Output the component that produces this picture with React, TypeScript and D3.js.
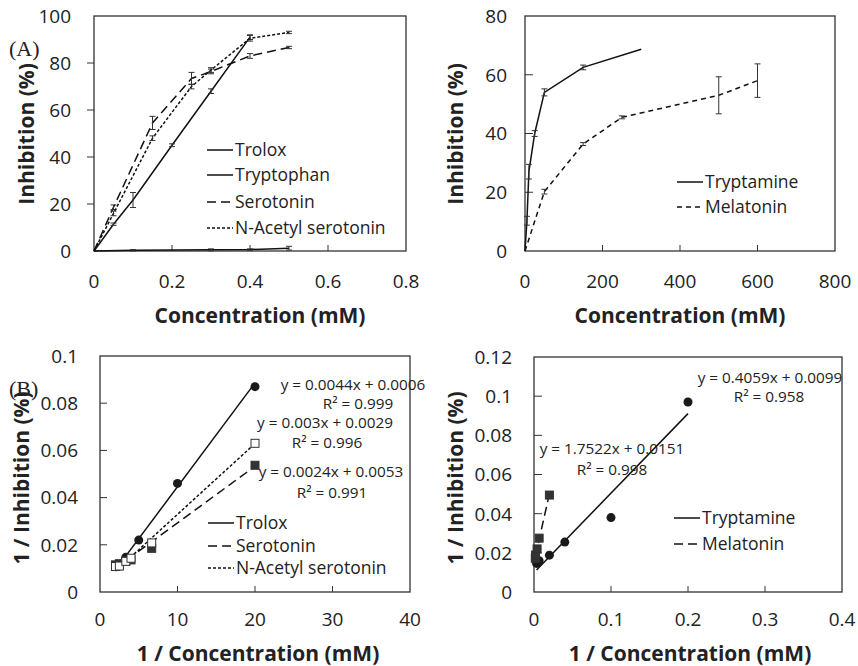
import React, { useRef, useEffect } from "react";
import * as d3 from "d3";

// ---- panel A, left: inhibition vs concentration (mM)
const troloxConc = [0, 0.05, 0.1, 0.2, 0.3, 0.4];
const troloxInh = [0, 11.4, 21.7, 45, 68, 91];
const troloxErr = [0, 0.5, 3.2, 0.6, 1, 1];

const tryptophanConc = [0, 0.1, 0.3, 0.4, 0.5];
const tryptophanInh = [0, 0.3, 0.5, 0.6, 1.2];
const tryptophanErr = [0, 0.3, 0.4, 0.3, 0.8];

const serotoninConc = [0, 0.05, 0.15, 0.25, 0.3, 0.4, 0.5];
const serotoninInh = [0, 18.6, 54.5, 73.4, 76.4, 83, 86.6];
const serotoninErr = [0, 1, 2.8, 2.6, 1, 1, 0.5];

const nacetylConc = [0, 0.05, 0.15, 0.25, 0.3, 0.4, 0.5];
const nacetylInh = [0, 16, 48, 70, 77, 90.5, 93];
const nacetylErr = [0, 1, 1, 1, 1, 1.2, 0.5];

// ---- panel A, right
const tryptamineConc = [0, 5, 10, 25, 50, 150, 300];
const tryptamineInh = [0, 10.3, 27, 40, 54, 62.5, 68.7];
const tryptamineErr = [0, 1.5, 2.5, 1, 1.2, 0.8, 0];

const melatoninConc = [0, 50, 150, 250, 500, 600];
const melatoninInh = [0, 20.2, 36.4, 45.5, 53, 58];
const melatoninErr = [0, 0.8, 0.5, 0.5, 6.3, 5.7];

// ---- panel B, left: double reciprocal
const troloxInvC = [2.5, 3.33, 5, 10, 20];
const troloxInvI = [0.011, 0.0147, 0.022, 0.046, 0.087];
const serotoninInvC = [2, 2.5, 3.33, 4, 6.67, 20];
const serotoninInvI = [0.0115, 0.012, 0.0131, 0.0136, 0.0185, 0.0537];
const nacetylInvC = [2, 2.5, 3.33, 4, 6.67, 20];
const nacetylInvI = [0.0108, 0.011, 0.013, 0.0143, 0.0208, 0.063];

// ---- panel B, right
const tryptamineInvC = [0.00333, 0.00667, 0.02, 0.04, 0.1, 0.2];
const tryptamineInvI = [0.0146, 0.016, 0.0188, 0.0255, 0.038, 0.097];
const melatoninInvC = [0.00167, 0.002, 0.004, 0.00667, 0.02];
const melatoninInvI = [0.0172, 0.0189, 0.022, 0.0275, 0.0495];

// trend lines [slope, intercept]
const troloxFit = [0.0044, 0.0006];
const serotoninFit = [0.0024, 0.0053];
const nacetylFit = [0.003, 0.0029];
const tryptamineFit = [0.4059, 0.0099];
const melatoninFit = [1.7522, 0.0151];

const FONT = "'Open Sans', sans-serif";
const SOLID = null;
const LONG = "9,5";
const SHORT = "3,2";

const drawFrame = (svg, p) => {
  const { x, y } = p;
  const [x0, x1] = x.range();
  const [y0, y1] = y.range();

  svg
    .append("rect")
    .attr("x", x0)
    .attr("y", y1)
    .attr("width", x1 - x0)
    .attr("height", y0 - y1)
    .attr("fill", "none")
    .attr("stroke", "#333")
    .attr("stroke-width", 1.3);

  // x ticks point inward
  svg
    .selectAll(null)
    .data(p.xTicks.slice(1, -1))
    .enter()
    .append("line")
    .attr("x1", (d) => x(d))
    .attr("x2", (d) => x(d))
    .attr("y1", y0)
    .attr("y2", y0 - 6)
    .attr("stroke", "#333")
    .attr("stroke-width", 1);

  svg
    .selectAll(null)
    .data(p.yTicks.slice(1, -1))
    .enter()
    .append("line")
    .attr("x1", x0)
    .attr("x2", x0 + p.yTickLen)
    .attr("y1", (d) => y(d))
    .attr("y2", (d) => y(d))
    .attr("stroke", "#333")
    .attr("stroke-width", 1);

  svg
    .selectAll(null)
    .data(p.xTicks)
    .enter()
    .append("text")
    .attr("x", (d) => x(d))
    .attr("y", y0 + p.xLabelOff)
    .attr("text-anchor", "middle")
    .style("font-family", FONT)
    .style("font-size", "19px")
    .style("fill", "#222")
    .text((d) => String(d));

  svg
    .selectAll(null)
    .data(p.yTicks)
    .enter()
    .append("text")
    .attr("x", x0 - p.yLabelOff)
    .attr("y", (d) => y(d))
    .attr("dy", "0.36em")
    .attr("text-anchor", "end")
    .style("font-family", FONT)
    .style("font-size", "19px")
    .style("fill", "#222")
    .text((d) => String(d));

  svg
    .append("text")
    .attr("x", p.xTitle[0])
    .attr("y", p.xTitle[1])
    .attr("text-anchor", "middle")
    .style("font-family", FONT)
    .style("font-size", "21px")
    .style("font-weight", "bold")
    .style("fill", "#222")
    .text(p.xTitleText);

  svg
    .append("text")
    .attr("transform", `translate(${p.yTitle[0]},${p.yTitle[1]}) rotate(-90)`)
    .attr("text-anchor", "middle")
    .attr("dy", "0.35em")
    .style("font-family", FONT)
    .style("font-size", "21px")
    .style("font-weight", "bold")
    .style("fill", "#222")
    .text(p.yTitleText);
};

const drawSeries = (svg, x, y, xs, ys, errs, dash) => {
  const pts = xs.map((v, i) => [v, ys[i]]);
  svg
    .append("path")
    .attr("d", d3.line().x((d) => x(d[0])).y((d) => y(d[1]))(pts))
    .attr("fill", "none")
    .attr("stroke", "#111")
    .attr("stroke-width", 1.5)
    .attr("stroke-dasharray", dash);

  if (!errs) return;
  const eb = xs
    .map((v, i) => ({ x: v, lo: ys[i] - errs[i], hi: ys[i] + errs[i], e: errs[i] }))
    .filter((d) => d.e > 0);
  const g = svg.append("g").attr("stroke", "#333").attr("stroke-width", 1);
  eb.forEach((d) => {
    g.append("line").attr("x1", x(d.x)).attr("x2", x(d.x)).attr("y1", y(d.lo)).attr("y2", y(d.hi));
    g.append("line").attr("x1", x(d.x) - 3).attr("x2", x(d.x) + 3).attr("y1", y(d.lo)).attr("y2", y(d.lo));
    g.append("line").attr("x1", x(d.x) - 3).attr("x2", x(d.x) + 3).attr("y1", y(d.hi)).attr("y2", y(d.hi));
  });
};

const drawFit = (svg, x, y, xs, fit, dash) => {
  const ext = d3.extent(xs);
  svg
    .append("path")
    .attr("d", d3.line().x((d) => x(d)).y((d) => y(fit[0] * d + fit[1]))(ext))
    .attr("fill", "none")
    .attr("stroke", "#111")
    .attr("stroke-width", 1.5)
    .attr("stroke-dasharray", dash);
};

const drawMarkers = (svg, x, y, xs, ys, kind) => {
  xs.forEach((v, i) => {
    if (kind === "circle") {
      svg.append("circle").attr("cx", x(v)).attr("cy", y(ys[i])).attr("r", 4.5).attr("fill", "#1a1a1a");
    } else {
      svg
        .append("rect")
        .attr("x", x(v) - 4)
        .attr("y", y(ys[i]) - 4)
        .attr("width", 8)
        .attr("height", 8)
        .attr("fill", kind === "open" ? "#fff" : "#333")
        .attr("stroke", "#333")
        .attr("stroke-width", 1);
    }
  });
};

const drawLegend = (svg, x0, items) => {
  items.forEach((it) => {
    svg
      .append("line")
      .attr("x1", x0)
      .attr("x2", x0 + 26)
      .attr("y1", it.y)
      .attr("y2", it.y)
      .attr("stroke", "#111")
      .attr("stroke-width", 1.5)
      .attr("stroke-dasharray", it.dash);
    svg
      .append("text")
      .attr("x", x0 + 28)
      .attr("y", it.y)
      .attr("dy", "0.36em")
      .style("font-family", FONT)
      .style("font-size", "17.5px")
      .style("fill", "#222")
      .text(it.label);
  });
};

const drawNote = (svg, cx, yb, text) => {
  svg
    .append("text")
    .attr("x", cx)
    .attr("y", yb)
    .attr("text-anchor", "middle")
    .style("font-family", FONT)
    .style("font-size", "15.3px")
    .style("fill", "#222")
    .text(text);
};

const App = () => {
  const svgRef = useRef();

  useEffect(() => {
    const svg = d3.select(svgRef.current);
    svg.selectAll("*").remove();

    // ---- A left
    const xA1 = d3.scaleLinear().domain([0, 0.8]).range([94, 406]);
    const yA1 = d3.scaleLinear().domain([0, 100]).range([251, 16]);
    drawFrame(svg, {
      x: xA1,
      y: yA1,
      xTicks: [0, 0.2, 0.4, 0.6, 0.8],
      yTicks: [0, 20, 40, 60, 80, 100],
      yTickLen: -7,
      xLabelOff: 37,
      yLabelOff: 23,
      xTitle: [260, 323],
      xTitleText: "Concentration (mM)",
      yTitle: [27, 134],
      yTitleText: "Inhibition (%)",
    });
    drawSeries(svg, xA1, yA1, troloxConc, troloxInh, troloxErr, SOLID);
    drawSeries(svg, xA1, yA1, tryptophanConc, tryptophanInh, tryptophanErr, SOLID);
    drawSeries(svg, xA1, yA1, serotoninConc, serotoninInh, serotoninErr, LONG);
    drawSeries(svg, xA1, yA1, nacetylConc, nacetylInh, nacetylErr, SHORT);
    drawLegend(svg, 207, [
      { y: 150, label: "Trolox", dash: SOLID },
      { y: 175, label: "Tryptophan", dash: SOLID },
      { y: 202, label: "Serotonin", dash: LONG },
      { y: 228, label: "N-Acetyl serotonin", dash: SHORT },
    ]);

    // ---- A right
    const xA2 = d3.scaleLinear().domain([0, 800]).range([525, 835]);
    const yA2 = d3.scaleLinear().domain([0, 80]).range([251, 16]);
    drawFrame(svg, {
      x: xA2,
      y: yA2,
      xTicks: [0, 200, 400, 600, 800],
      yTicks: [0, 20, 40, 60, 80],
      yTickLen: 8,
      xLabelOff: 37,
      yLabelOff: 18,
      xTitle: [680, 323],
      xTitleText: "Concentration (mM)",
      yTitle: [456, 134],
      yTitleText: "Inhibition (%)",
    });
    drawSeries(svg, xA2, yA2, tryptamineConc, tryptamineInh, tryptamineErr, SOLID);
    drawSeries(svg, xA2, yA2, melatoninConc, melatoninInh, melatoninErr, "5,4");
    drawLegend(svg, 677, [
      { y: 182, label: "Tryptamine", dash: SOLID },
      { y: 207, label: "Melatonin", dash: "5,4" },
    ]);

    // ---- B left
    const xB1 = d3.scaleLinear().domain([0, 40]).range([100, 410]);
    const yB1 = d3.scaleLinear().domain([0, 0.1]).range([592, 356]);
    drawFrame(svg, {
      x: xB1,
      y: yB1,
      xTicks: [0, 10, 20, 30, 40],
      yTicks: [0, 0.02, 0.04, 0.06, 0.08, 0.1],
      yTickLen: 7,
      xLabelOff: 34,
      yLabelOff: 22,
      xTitle: [258, 661],
      xTitleText: "1 / Concentration (mM)",
      yTitle: [22, 478],
      yTitleText: "1 / Inhibition (%)",
    });
    drawFit(svg, xB1, yB1, troloxInvC, troloxFit, SOLID);
    drawFit(svg, xB1, yB1, serotoninInvC, serotoninFit, LONG);
    drawFit(svg, xB1, yB1, nacetylInvC, nacetylFit, SHORT);
    drawMarkers(svg, xB1, yB1, troloxInvC, troloxInvI, "circle");
    drawMarkers(svg, xB1, yB1, serotoninInvC, serotoninInvI, "square");
    drawMarkers(svg, xB1, yB1, nacetylInvC, nacetylInvI, "open");
    drawNote(svg, 353, 390, "y = 0.0044x + 0.0006");
    drawNote(svg, 358, 409, "R² = 0.999");
    drawNote(svg, 325, 428, "y = 0.003x + 0.0029");
    drawNote(svg, 327, 448, "R² = 0.996");
    drawNote(svg, 331, 477, "y = 0.0024x + 0.0053");
    drawNote(svg, 332, 498, "R² = 0.991");
    drawLegend(svg, 208, [
      { y: 523, label: "Trolox", dash: SOLID },
      { y: 546, label: "Serotonin", dash: LONG },
      { y: 568, label: "N-Acetyl serotonin", dash: SHORT },
    ]);

    // ---- B right
    const xB2 = d3.scaleLinear().domain([0, 0.4]).range([534, 842]);
    const yB2 = d3.scaleLinear().domain([0, 0.12]).range([592, 357]);
    drawFrame(svg, {
      x: xB2,
      y: yB2,
      xTicks: [0, 0.1, 0.2, 0.3, 0.4],
      yTicks: [0, 0.02, 0.04, 0.06, 0.08, 0.1, 0.12],
      yTickLen: 8,
      xLabelOff: 34,
      yLabelOff: 22,
      xTitle: [690, 661],
      xTitleText: "1 / Concentration (mM)",
      yTitle: [456, 478],
      yTitleText: "1 / Inhibition (%)",
    });
    drawFit(svg, xB2, yB2, tryptamineInvC, tryptamineFit, SOLID);
    drawFit(svg, xB2, yB2, melatoninInvC, melatoninFit, LONG);
    drawMarkers(svg, xB2, yB2, tryptamineInvC, tryptamineInvI, "circle");
    drawMarkers(svg, xB2, yB2, melatoninInvC, melatoninInvI, "square");
    drawNote(svg, 770, 383, "y = 0.4059x + 0.0099");
    drawNote(svg, 769, 402, "R² = 0.958");
    drawNote(svg, 612, 454, "y = 1.7522x + 0.0151");
    drawNote(svg, 612, 475, "R² = 0.998");
    drawLegend(svg, 674, [
      { y: 518, label: "Tryptamine", dash: SOLID },
      { y: 544, label: "Melatonin", dash: LONG },
    ]);

    // panel letters
    [
      ["(A)", 56],
      ["(B)", 396],
    ].forEach(([t, yy]) => {
      svg
        .append("text")
        .attr("x", 9)
        .attr("y", yy)
        .style("font-family", "'Liberation Serif', serif")
        .style("font-size", "22px")
        .style("fill", "#222")
        .text(t);
    });
  }, []);

  return (
    <svg
      ref={svgRef}
      width={858}
      height={666}
      style={{ position: "absolute", left: 0, top: 0, background: "#fff" }}
    ></svg>
  );
};

export default App;
